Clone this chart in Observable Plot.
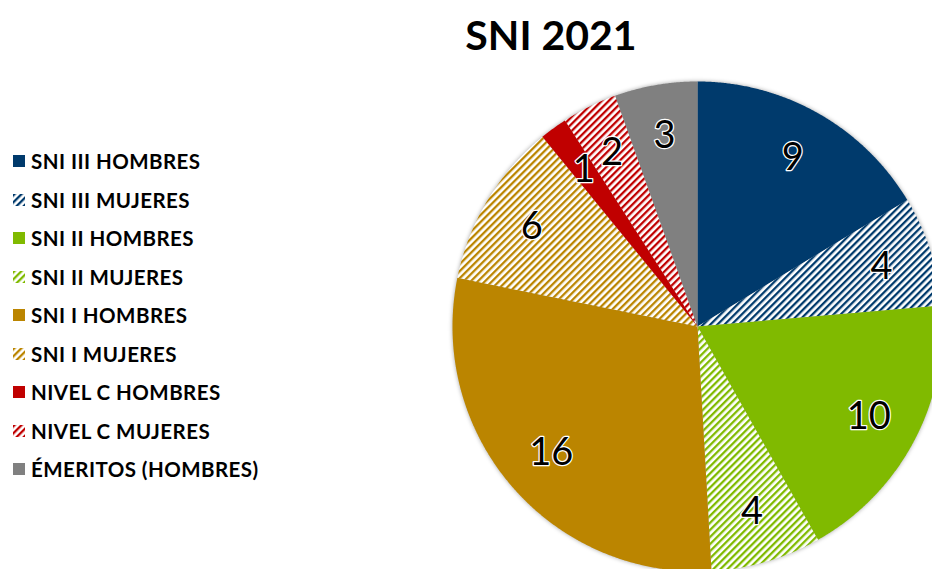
<!DOCTYPE html>
<html>
<head>
<meta charset="utf-8">
<script src="https://cdn.jsdelivr.net/npm/d3@7"></script>
<script src="https://cdn.jsdelivr.net/npm/@observablehq/plot@0.6"></script>
<style>
  body { margin: 0; background: #fff; }
  #wrap { position: relative; width: 932px; height: 569px; overflow: hidden; font-family: Lato, "Open Sans", sans-serif; }
  #chart { position: absolute; left: 0; top: 0; }
  #title { position: absolute; left: 401px; width: 300px; top: 11px; text-align: center; font-weight: 700; font-size: 41px; line-height: 48px; color: #000; }
  #legend { position: absolute; left: 13px; top: 142px; }
  .row { height: 38.5px; display: flex; align-items: center; font-weight: 700; font-size: 20.5px; letter-spacing: 0.45px; color: #000; }
  .row svg { margin-right: 6px; }
</style>
</head>
<body>
<svg width="0" height="0" style="position:absolute">
  <defs id="defs"></defs>
</svg>
<div id="wrap">
  <div id="chart"></div>
  <div id="title">SNI 2021</div>
  <div id="legend"></div>
</div>
<script>
const categories = ["SNI III HOMBRES", "SNI III MUJERES", "SNI II HOMBRES", "SNI II MUJERES", "SNI I HOMBRES", "SNI I MUJERES", "NIVEL C HOMBRES", "NIVEL C MUJERES", "ÉMERITOS (HOMBRES)"];
const values = [9, 4, 10, 4, 16, 6, 1, 2, 3];
const baseColors = ["#003A6C", "#003A6C", "#80BA00", "#80BA00", "#BB8500", "#BB8500", "#C00000", "#C00000", "#808080"];
const hatched = [false, true, false, true, false, true, false, true, false];

// hatch patterns
const defs = document.getElementById("defs");
const NS = "http://www.w3.org/2000/svg";
categories.forEach((c, i) => {
  if (!hatched[i]) return;
  const p = document.createElementNS(NS, "pattern");
  p.setAttribute("id", "hatch" + i);
  p.setAttribute("patternUnits", "userSpaceOnUse");
  p.setAttribute("width", "5");
  p.setAttribute("height", "5");
  p.setAttribute("patternTransform", "rotate(45)");
  const r = document.createElementNS(NS, "rect");
  r.setAttribute("width", "5"); r.setAttribute("height", "5"); r.setAttribute("fill", "#fff");
  const l = document.createElementNS(NS, "rect");
  l.setAttribute("x", "0"); l.setAttribute("width", "2.3"); l.setAttribute("height", "5"); l.setAttribute("fill", baseColors[i]);
  p.appendChild(r); p.appendChild(l);
  defs.appendChild(p);
});
const fills = categories.map((c, i) => hatched[i] ? `url(#hatch${i})` : baseColors[i]);

// pie geometry (unit circle, angle 0 at top, clockwise)
const arcs = d3.pie().sort(null).value(d => d)(values);
const wedgePts = [];
arcs.forEach((a, i) => {
  const cat = categories[i];
  wedgePts.push({cat, x: 0, y: 0});
  const n = Math.max(4, Math.ceil((a.endAngle - a.startAngle) / 0.005));
  for (let k = 0; k <= n; k++) {
    const t = a.startAngle + (a.endAngle - a.startAngle) * k / n;
    wedgePts.push({cat, x: Math.sin(t), y: Math.cos(t)});
  }
  wedgePts.push({cat, x: 0, y: 0});
});
const labels = arcs.map((a, i) => {
  const m = (a.startAngle + a.endAngle) / 2;
  return {text: String(values[i]), x: 0.79 * Math.sin(m), y: 0.79 * Math.cos(m)};
});

const R = 245, cx = 697, cy = 326, W = 932, H = 569;
const plot = Plot.plot({
  width: W, height: H,
  margin: 0,
  x: {domain: [-cx / R, (W - cx) / R], axis: null},
  y: {domain: [-(H - cy) / R, cy / R], axis: null},
  color: {type: "ordinal", domain: categories, range: fills},
  style: {background: "transparent"},
  marks: [
    Plot.line(wedgePts, {x: "x", y: "y", z: "cat", fill: "cat", stroke: "none", curve: "linear"}),
    Plot.text(labels, {x: "x", y: "y", text: "text", fontSize: 38, fontFamily: "Lato, 'Open Sans', sans-serif", fill: "#000", stroke: "#fff", strokeWidth: 2.5, textAnchor: "middle", lineAnchor: "middle"})
  ]
});
const lineG = plot.querySelector('g[aria-label="line"]');
if (lineG) lineG.style.filter = "drop-shadow(0px 0px 2px rgba(0,0,0,0.35))";
document.getElementById("chart").appendChild(plot);

// legend
const legend = document.getElementById("legend");
categories.forEach((c, i) => {
  const row = document.createElement("div");
  row.className = "row";
  row.innerHTML = `<svg width="12" height="12"><rect width="12" height="12" fill="${fills[i]}"></rect></svg><span>${c}</span>`;
  legend.appendChild(row);
});
</script>
</body>
</html>
